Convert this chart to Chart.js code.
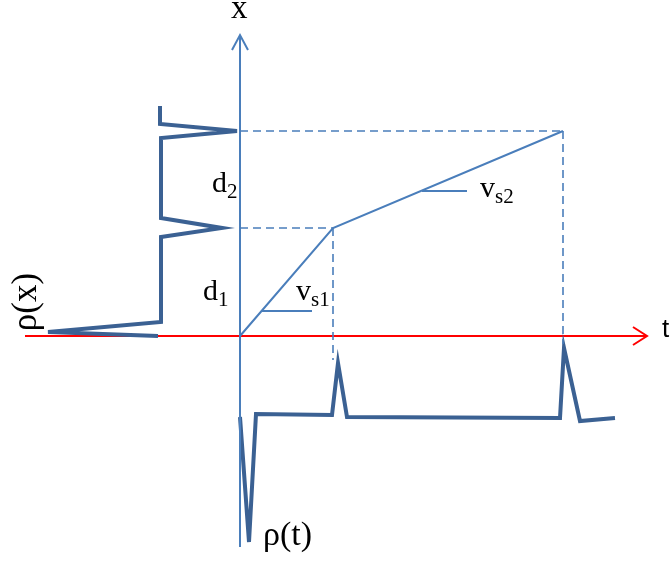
<!DOCTYPE html>
<html>
<head>
<meta charset="utf-8">
<script src="https://cdn.jsdelivr.net/npm/chart.js@4/dist/chart.umd.min.js"></script>
<style>
html,body{margin:0;padding:0;background:#fff;}
#wrap{width:671px;height:561px;}
</style>
</head>
<body>
<div id="wrap"><canvas id="c" width="671" height="561"></canvas></div>
<script>
// Diagram data, in (t, x) units with the origin where the axes cross
const xAxisLine = [[0, -211], [0, 301]];
const xAxisArrow = [[-8, 286], [0, 301], [8, 286]];
const tAxisLine = [[-215, 0], [407, 0]];
const tAxisArrow = [[393, 9], [407, 0], [393, -9]];
const trajectory = [[0, 0], [93, 108], [323, 205]];
const dashD1 = [[0, 108], [93, 108]];
const dashD2 = [[0, 205], [323, 205]];
const dashT1 = [[93, 108], [93, -24]];
const dashT2 = [[323, 205], [323, -8]];
const pointerVs1 = [[22, 25], [72, 25]];
const pointerVs2 = [[182, 145], [227, 145]];
const rhoX = [[-80, 230], [-80, 212], [-3, 205], [-79, 198], [-79, 118], [-18, 108], [-79, 99], [-79, 14], [-192, 4], [-82, 0]];
const rhoT = [[0, -81], [9, -206], [16, -78], [92, -79], [98, -27], [107, -81], [320, -82], [324, -12], [340, -85], [375, -82]];

// Text labels: [main, subscript, t, x, main size, sub size, family]
const serif = '"Liberation Serif", "Times New Roman", serif';
const sans = '"Liberation Sans", Arial, sans-serif';
const labels = [
  ['x', '', -9, 318, 33, 0, serif],
  ['t', '', 422, -1, 26, 0, sans],
  ['d', '2', -28, 144, 30, 21, serif],
  ['d', '1', -37, 36, 30, 21, serif],
  ['v', 's1', 56, 36, 30, 21, serif],
  ['v', 's2', 240, 139, 30, 21, serif],
  ['ρ(t)', '', 23, -209, 34, 0, serif]
];
const rotatedLabel = ['ρ(x)', -204, 34, 35];

const pts = a => a.map(p => ({x: p[0], y: p[1]}));
const thin = '#4a7ebb';
const thick = '#3b6193';
function ds(arr, color, width, dash) {
  return {data: pts(arr), showLine: true, borderColor: color, borderWidth: width,
    borderDash: dash || [], pointRadius: 0, tension: 0, fill: false,
    borderJoinStyle: 'miter', borderCapStyle: 'butt'};
}

const textPlugin = {
  id: 'textPlugin',
  afterDatasetsDraw(chart) {
    const ctx = chart.ctx, sx = chart.scales.x, sy = chart.scales.y;
    ctx.save();
    ctx.fillStyle = '#000';
    ctx.textBaseline = 'alphabetic';
    labels.forEach(l => {
      const px = sx.getPixelForValue(l[2]), py = sy.getPixelForValue(l[3]);
      ctx.font = l[4] + 'px ' + l[6];
      ctx.fillText(l[0], px, py);
      if (l[1]) {
        const w = ctx.measureText(l[0]).width;
        ctx.font = l[5] + 'px ' + l[6];
        ctx.fillText(l[1], px + w, py + 6);
      }
    });
    const rx = sx.getPixelForValue(rotatedLabel[1]), ry = sy.getPixelForValue(rotatedLabel[2]);
    ctx.translate(rx, ry);
    ctx.rotate(-Math.PI / 2);
    ctx.font = rotatedLabel[3] + 'px ' + serif;
    ctx.textAlign = 'center';
    ctx.fillText(rotatedLabel[0], 0, 0);
    ctx.restore();
  }
};

new Chart(document.getElementById('c'), {
  type: 'scatter',
  data: {
    datasets: [
      ds(dashD1, thin, 1.6, [8, 5]),
      ds(dashD2, thin, 1.6, [8, 5]),
      ds(dashT1, thin, 1.6, [8, 5]),
      ds(dashT2, thin, 1.6, [8, 5]),
      ds(trajectory, thin, 2),
      ds(pointerVs1, thin, 2),
      ds(pointerVs2, thin, 2),
      ds(xAxisLine, thin, 2),
      ds(xAxisArrow, thin, 2),
      ds(rhoX, thick, 4),
      ds(rhoT, thick, 4),
      ds(tAxisLine, '#ff0000', 2),
      ds(tAxisArrow, '#ff0000', 2)
    ]
  },
  options: {
    responsive: false,
    animation: false,
    events: [],
    layout: {padding: 0},
    plugins: {legend: {display: false}, tooltip: {enabled: false}},
    scales: {
      x: {type: 'linear', min: -240, max: 431, display: false},
      y: {type: 'linear', min: -225, max: 336, display: false}
    }
  },
  plugins: [textPlugin]
});
</script>
</body>
</html>
